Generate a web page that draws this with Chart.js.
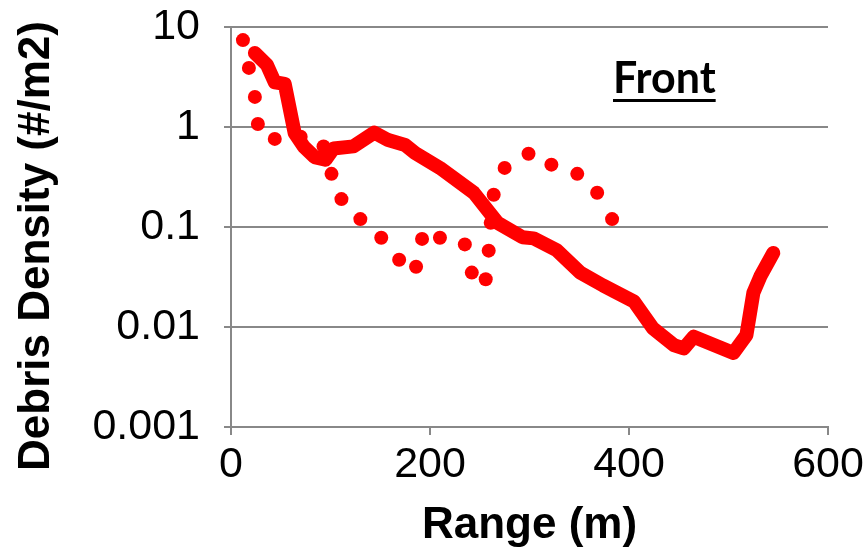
<!DOCTYPE html>
<html>
<head>
<meta charset="utf-8">
<script src="https://cdn.jsdelivr.net/npm/chart.js@4/dist/chart.umd.min.js"></script>
<style>
  html, body { margin: 0; padding: 0; background: #fff; }
  canvas { display: block; }
</style>
</head>
<body>
<canvas id="chart" width="868" height="552"></canvas>
<script>
// scattered points (dots)
const dotX = [12, 18, 24, 27, 44, 70, 93, 101, 111, 130, 151, 169, 186, 192, 210, 235, 242, 256, 259, 261, 264, 275, 299, 322, 348, 368, 383]
const dotY = [7.4, 3.9, 2.0, 1.07, 0.76, 0.80, 0.64, 0.34, 0.19, 0.12, 0.078, 0.047, 0.040, 0.076, 0.078, 0.067, 0.035, 0.030, 0.058, 0.11, 0.21, 0.39, 0.54, 0.42, 0.34, 0.22, 0.12]

// thick line
const lineX = [24, 36, 44, 54, 64, 73, 84, 95, 103, 123, 144, 158, 175, 185, 210, 244, 268, 293, 304, 327, 351, 374, 388, 405, 424, 445, 455, 465, 505, 518, 525, 532, 545]
const lineY = [5.5, 4.2, 2.8, 2.7, 0.87, 0.64, 0.5, 0.47, 0.61, 0.64, 0.88, 0.74, 0.66, 0.55, 0.39, 0.22, 0.11, 0.079, 0.077, 0.059, 0.035, 0.026, 0.022, 0.018, 0.0097, 0.0066, 0.0061, 0.0080, 0.0055, 0.0083, 0.022, 0.032, 0.055]

const xTicks = [0, 200, 400, 600]
const yTicks = [10, 1, 0.1, 0.01, 0.001]
const yLabels = ['10', '1', '0.1', '0.01', '0.001']

const yTitle = 'Debris Density (#/m2)'
const xTitle = 'Range (m)'
const panelLabel = 'Front'

const RED = '#ff0000'
const GRID = '#888888'
const FONT = "'Liberation Sans', Arial, sans-serif"

// y軸タイトルと "Front" を描く
const extraText = {
  id: 'extraText',
  afterDraw(chart) {
    const ctx = chart.ctx
    ctx.save()
    ctx.fillStyle = '#000'
    ctx.font = `bold 44px ${FONT}`
    ctx.textAlign = 'center'
    ctx.textBaseline = 'middle'
    ctx.translate(37, 246)
    ctx.rotate(-Math.PI / 2)
    ctx.fillText(yTitle, 0, 0)
    ctx.restore()

    ctx.save()
    ctx.fillStyle = '#000'
    ctx.font = "bold 43px Lato, 'Open Sans', sans-serif"
    ctx.textAlign = 'left'
    ctx.textBaseline = 'alphabetic'
    const w = ctx.measureText(panelLabel).width
    ctx.fillText(panelLabel, 613, 93)
    ctx.fillRect(613, 99, w, 3)
    ctx.restore()
  }
}

// ラベル分の余白を消して、プロット領域を固定する
const noPad = (s) => {
  s.paddingTop = 0
  s.paddingBottom = 0
  s.paddingLeft = 0
  s.paddingRight = 0
}

const ctx = document.getElementById('chart').getContext('2d')
new Chart(ctx, {
  type: 'scatter',
  data: {
    datasets: [
      {
        label: 'line',
        data: lineX.map((x, i) => ({ x: x, y: lineY[i] })),
        showLine: true,
        borderColor: RED,
        backgroundColor: RED,
        borderWidth: 14,
        borderJoinStyle: 'round',
        borderCapStyle: 'round',
        pointRadius: 0,
        tension: 0
      },
      {
        label: 'dots',
        data: dotX.map((x, i) => ({ x: x, y: dotY[i] })),
        showLine: false,
        backgroundColor: RED,
        borderWidth: 0,
        pointRadius: 7
      }
    ]
  },
  options: {
    responsive: false,
    animation: false,
    layout: { padding: { top: 27, right: 40, left: 0, bottom: 0 } },
    plugins: {
      legend: { display: false },
      tooltip: { enabled: false }
    },
    scales: {
      x: {
        type: 'linear',
        min: 0,
        max: 600,
        afterFit: (s) => { s.height = 125; noPad(s) },
        afterBuildTicks: (s) => { s.ticks = xTicks.map(v => ({ value: v })) },
        ticks: {
          color: '#000',
          font: { family: FONT, size: 43 },
          padding: 4,
          maxRotation: 0,
          callback: (v) => String(v)
        },
        grid: { drawOnChartArea: false, drawTicks: true, tickLength: 8, color: GRID, lineWidth: 2 },
        border: { display: true, color: GRID, width: 2 },
        title: {
          display: true,
          text: xTitle,
          color: '#000',
          font: { family: FONT, size: 44, weight: 'bold' },
          padding: { top: 0, bottom: 0 }
        }
      },
      y: {
        type: 'logarithmic',
        min: 0.001,
        max: 10,
        afterFit: (s) => { s.width = 231; noPad(s) },
        afterBuildTicks: (s) => { s.ticks = yTicks.map(v => ({ value: v })) },
        ticks: {
          color: '#000',
          font: { family: FONT, size: 43 },
          padding: 24,
          callback: (v) => {
            const i = yTicks.indexOf(v)
            return i >= 0 ? yLabels[i] : ''
          }
        },
        grid: { color: GRID, lineWidth: 2, tickLength: 7 },
        border: { display: true, color: GRID, width: 2 }
      }
    }
  },
  plugins: [extraText]
})
</script>
</body>
</html>
